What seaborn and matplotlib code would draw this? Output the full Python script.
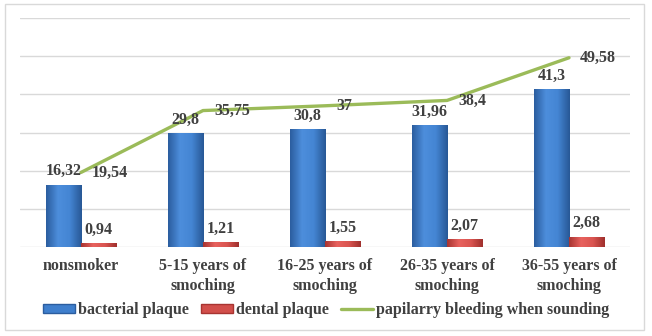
import numpy as np
import pandas as pd
import matplotlib
matplotlib.use("Agg")
import matplotlib.pyplot as plt
import seaborn as sns
from matplotlib.patches import Patch, Rectangle
from matplotlib.lines import Line2D
from matplotlib.colors import LinearSegmentedColormap

categories = ["nonsmoker", "5-15 years of\nsmoching", "16-25 years of\nsmoching",
              "26-35 years of\nsmoching", "36-55 years of\nsmoching"]
bacterial = [16.32, 29.8, 30.8, 31.96, 41.3]
dental = [0.94, 1.21, 1.55, 2.07, 2.68]
bleeding = [19.54, 35.75, 37, 38.4, 49.58]
series_names = ["bacterial plaque", "dental plaque", "papilarry bleeding when sounding"]

sns.set_theme(style="white")
plt.rcParams["font.family"] = ["Liberation Serif", "DejaVu Serif"]
plt.rcParams["font.weight"] = "bold"
TXT = "#404040"

df = pd.DataFrame({
    "cat": categories * 2,
    "val": bacterial + dental,
    "series": [series_names[0]] * 5 + [series_names[1]] * 5,
})

fig = plt.figure(figsize=(6.52, 3.36), dpi=100)
ax = fig.add_axes([20 / 652, 1 - 247 / 336, 610 / 652, (247 - 18) / 336])

blue_mid, red_mid = "#3F7FCD", "#D24F4B"
sns.barplot(data=df, x="cat", y="val", hue="series", ax=ax, order=categories,
            hue_order=series_names[:2], palette=[blue_mid, red_mid],
            width=0.574, gap=0, legend=False, errorbar=None, linewidth=0)

xs = np.arange(len(categories))
sns.lineplot(x=xs, y=bleeding, ax=ax, color="#9BBB59", linewidth=2.4,
             sort=False, legend=False)

ax.set_ylim(0, 60)
ax.set_xlim(-0.5, len(categories) - 0.5)
ax.set_yticks(np.arange(0, 61, 10))
ax.yaxis.grid(True, color="#D9D9D9", linewidth=1)
ax.set_axisbelow(True)
ax.tick_params(axis="y", left=False, labelleft=False)
ax.tick_params(axis="x", length=0, pad=8)
for s in ["top", "right", "left", "bottom"]:
    ax.spines[s].set_visible(False)
ax.set_xlabel("")
ax.set_ylabel("")
ax.set_xticks(xs)
ax.set_xticklabels(categories, fontsize=11.5, fontweight="bold", color=TXT,
                   linespacing=1.3)

# gradient fill on bars
blue_cmap = LinearSegmentedColormap.from_list("b", ["#2B5D9F", "#4D8EDC", "#4485D3", "#285896"])
red_cmap = LinearSegmentedColormap.from_list("r", ["#A83431", "#E8625E", "#DA5551", "#A0302D"])
grad = np.linspace(0, 1, 64).reshape(1, -1)
bars = [p for p in ax.patches if p.get_height() > 0]
for p in bars:
    x0, y0 = p.get_x(), p.get_y()
    w, h = p.get_width(), p.get_height()
    fc = p.get_facecolor()
    cmap = blue_cmap if fc[2] > fc[0] else red_cmap
    im = ax.imshow(grad, extent=[x0, x0 + w, y0, y0 + h], cmap=cmap,
                   aspect="auto", zorder=p.get_zorder() + 0.1, interpolation="bicubic")
    im.set_clip_path(p)
ax.set_ylim(0, 60)
ax.set_xlim(-0.5, len(categories) - 0.5)

def fmt(v):
    return format(v, "g").replace(".", ",")

# labels for bars
for p in bars:
    cx = p.get_x() + p.get_width() / 2
    top = p.get_height()
    ax.annotate(fmt(round(top, 2)), (cx, top), xytext=(0, 4), textcoords="offset points",
                ha="center", va="bottom", fontsize=11.5, fontweight="bold", color=TXT)

for x, v in zip(xs, bleeding):
    ax.annotate(fmt(v), (x, v), xytext=(8, 0), textcoords="offset points",
                ha="left", va="center", fontsize=11.5, fontweight="bold", color=TXT)

handles = [Patch(facecolor=blue_mid, edgecolor="#2B5D9F"),
           Patch(facecolor=red_mid, edgecolor="#A83431"),
           Line2D([0], [0], color="#9BBB59", linewidth=2.4)]
leg = fig.legend(handles, series_names, loc="center", bbox_to_anchor=(0.5, 1 - 310 / 336),
                 ncol=3, frameon=False, handlelength=2.0, handleheight=0.45,
                 handletextpad=0.15, columnspacing=0.8,
                 prop={"size": 11.5, "weight": "bold"})
for t in leg.get_texts():
    t.set_color(TXT)

fig.patches.append(Rectangle((5 / 652, 1 - 330 / 336), 639 / 652, 326 / 336,
                             transform=fig.transFigure, fill=False,
                             edgecolor="#D9D9D9", linewidth=1))

fig.savefig("out.png", dpi=100)
